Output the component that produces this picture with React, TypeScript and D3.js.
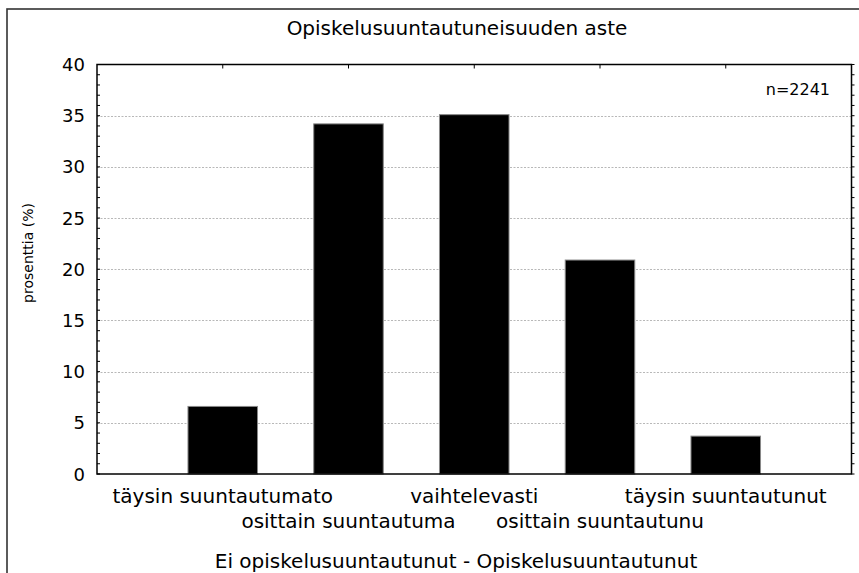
import React from "react";
import * as d3 from "d3";

const categories = [
  "täysin suuntautumato",
  "osittain suuntautuma",
  "vaihtelevasti",
  "osittain suuntautunu",
  "täysin suuntautunut",
];
const values = [6.6, 34.2, 35.1, 20.9, 3.7];
const yTicks = [0, 5, 10, 15, 20, 25, 30, 35, 40];
const title = "Opiskelusuuntautuneisuuden aste";
const yLabel = "prosenttia (%)";
const xLabel = "Ei opiskelusuuntautunut - Opiskelusuuntautunut";
const nLabel = "n=2241";

const W = 859;
const H = 573;
const FONT = "'DejaVu Sans', sans-serif";

export default function App() {
  const left = 97;
  const right = 851.5;
  const top = 64.5;
  const bottom = 474;
  const x = d3.scaleLinear().domain([0, categories.length + 1]).range([left, right]);
  const y = d3.scaleLinear().domain([0, 40]).range([bottom, top]);
  const barW = 0.553 * (x(1) - x(0));
  const minor = d3.range(0, 41, 1);

  return (
    <svg
      width={W}
      height={H}
      style={{ position: "absolute", left: 0, top: 0, background: "#fff" }}
      fontFamily={FONT}
    >
      <rect x={7} y={9} width={W + 20} height={H + 20} fill="#fff" stroke="#333" strokeWidth={1.6} />
      {yTicks
        .filter((t) => t > 0 && t < 40)
        .map((t) => (
          <line
            key={"g" + t}
            x1={left}
            x2={right}
            y1={Math.round(y(t)) + 0.5}
            y2={Math.round(y(t)) + 0.5}
            stroke="#b8b8b8"
            strokeWidth={1}
            strokeDasharray="2,1.5"
          />
        ))}
      {values.map((v, i) => (
        <rect
          key={"b" + i}
          x={x(i + 1) - barW / 2}
          y={y(v)}
          width={barW}
          height={y(0) - y(v)}
          fill="#000"
          stroke="#888"
          strokeWidth={1}
        />
      ))}
      <rect x={left} y={top} width={right - left} height={bottom - top} fill="none" stroke="#000" strokeWidth={1.5} />
      {minor.map((t) => (
        <line key={"lt" + t} x1={left} x2={left + 3} y1={y(t)} y2={y(t)} stroke="#000" strokeWidth={1} />
      ))}
      {minor.map((t) => (
        <line key={"rt" + t} x1={right} x2={right + 3} y1={y(t)} y2={y(t)} stroke="#000" strokeWidth={1} />
      ))}
      {categories.map((c, i) => (
        <line key={"tt" + i} x1={x(i + 1)} x2={x(i + 1)} y1={top} y2={top + 4} stroke="#000" strokeWidth={1} />
      ))}
      {yTicks.map((t) => (
        <text key={"yl" + t} x={85} y={y(t) + 6.5} textAnchor="end" fontSize={18} fill="#000">
          {t}
        </text>
      ))}
      {categories.map((c, i) => (
        <text
          key={"cl" + i}
          x={x(i + 1)}
          y={i % 2 === 0 ? 503 : 528}
          textAnchor="middle"
          fontSize={20}
          fill="#000"
        >
          {c}
        </text>
      ))}
      <text x={457} y={35} textAnchor="middle" fontSize={20} fill="#000">
        {title}
      </text>
      <text x={456} y={568} textAnchor="middle" fontSize={20} fill="#000">
        {xLabel}
      </text>
      <text x={830} y={95} textAnchor="end" fontSize={16} fill="#000">
        {nLabel}
      </text>
      <text
        transform={`translate(33,253) rotate(-90)`}
        textAnchor="middle"
        fontSize={14}
        fill="#000"
      >
        {yLabel}
      </text>
    </svg>
  );
}
